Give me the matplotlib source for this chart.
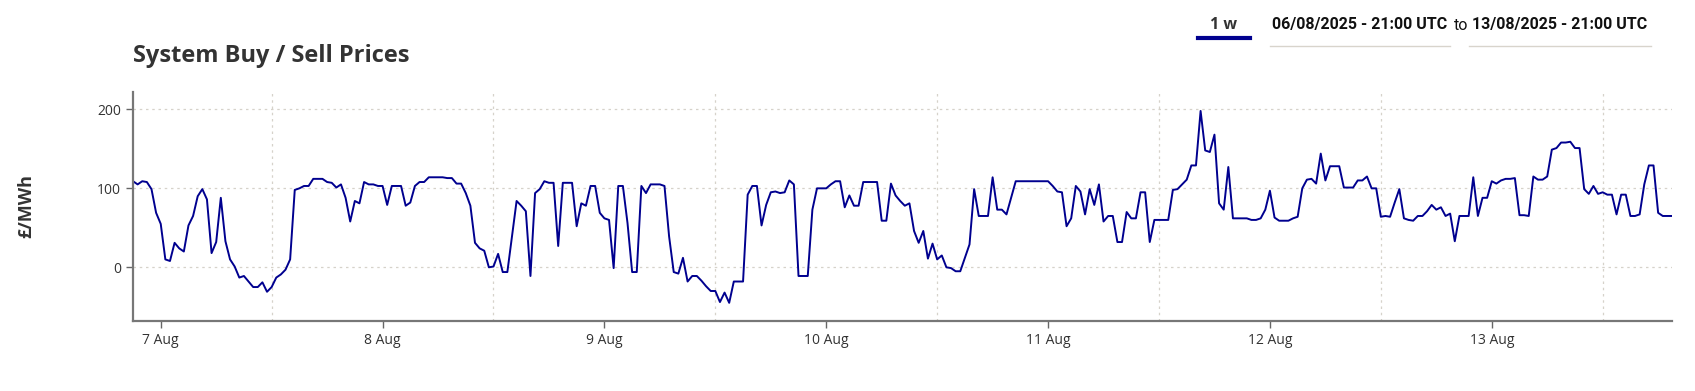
import pandas as pd
import matplotlib
matplotlib.use("Agg")
import matplotlib.pyplot as plt
import matplotlib.dates as mdates
from matplotlib.lines import Line2D

# System price (GBP/MWh), half-hourly from 06/08/2025 21:00
aug06 = [109, 105, 109, 108, 99, 69]
aug07 = [55, 10, 8, 31, 24, 20, 53, 65, 90, 99, 86, 18, 32, 88, 33, 10, 1, -13, -11, -18,
         -25, -25, -19, -31, -25, -13, -9, -3, 10, 98, 100, 103, 103, 112, 112, 112, 108, 107, 101, 105,
         88, 58, 84, 81, 108, 105, 105, 103]
aug08 = [103, 79, 103, 103, 103, 78, 82, 103, 108, 108, 114, 114, 114, 114, 113, 113, 106, 106, 94, 78,
         31, 24, 21, 0, 1, 17, -6, -6, 39, 84, 78, 71, -11, 94, 99, 109, 107, 107, 27, 107,
         107, 107, 52, 81, 78, 103, 103, 69]
aug09 = [62, 60, -1, 103, 103, 56, -6, -6, 103, 94, 105, 105, 105, 103, 39, -6, -8, 12, -18, -11,
         -11, -17, -24, -30, -30, -44, -32, -45, -18, -18, -18, 92, 103, 103, 53, 79, 95, 96, 94, 95,
         110, 105, -11, -11, -11, 73, 100, 100]
aug10 = [100, 105, 109, 109, 76, 91, 78, 78, 108, 108, 108, 108, 59, 59, 106, 91, 84, 78, 81, 46,
         31, 46, 11, 30, 10, 15, 0, -1, -5, -5, 12, 29, 99, 65, 65, 65, 114, 73, 73, 67,
         88, 109, 109, 109, 109, 109, 109, 109]
aug11 = [109, 103, 96, 95, 52, 62, 103, 96, 67, 99, 79, 105, 58, 65, 65, 32, 32, 70, 62, 62,
         95, 95, 32, 60, 60, 60, 60, 98, 99, 105, 111, 129, 129, 198, 148, 146, 168, 81, 73, 127,
         62, 62, 62, 62, 60, 60, 62, 73]
aug12 = [97, 63, 59, 59, 59, 62, 64, 100, 111, 112, 106, 144, 110, 128, 128, 128, 101, 101, 101, 110,
         110, 115, 100, 100, 64, 65, 64, 82, 99, 62, 60, 59, 65, 65, 71, 79, 73, 76, 65, 68,
         33, 65, 65, 65, 114, 65, 88, 88]
aug13 = [109, 106, 110, 112, 112, 113, 66, 66, 65, 115, 111, 111, 115, 149, 151, 158, 158, 159, 151, 151,
         99, 93, 103, 93, 95, 92, 92, 67, 92, 92, 65, 65, 67, 105, 129, 129, 69, 65, 65, 65]

prices = aug06 + aug07 + aug08 + aug09 + aug10 + aug11 + aug12 + aug13
times = pd.date_range("2025-08-06 21:00", periods=len(prices), freq="30min")

y_ticks = [0, 100, 200]
title = "System Buy / Sell Prices"
y_label = "£/MWh"
range_label = "1 w"
date_from = "06/08/2025 - 21:00 UTC"
date_to = "13/08/2025 - 21:00 UTC"

plt.rcParams['font.family'] = ['Open Sans', 'DejaVu Sans']

W, H = 1695, 391
fig = plt.figure(figsize=(W / 100, H / 100), dpi=100)
ax = fig.add_axes([133 / W, 1 - 321 / H, (1672 - 133) / W, (321 - 92) / H])

ax.plot(times, prices, color="#00008f", lw=1.4)

ax.set_xlim(times[0], times[-1])
ax.set_ylim(-68, 222)
ax.set_yticks(y_ticks)

ax.xaxis.set_major_locator(mdates.DayLocator())
ax.xaxis.set_major_formatter(
    matplotlib.ticker.FuncFormatter(lambda v, p: "%d Aug" % mdates.num2date(v).day))
ax.xaxis.set_minor_locator(mdates.HourLocator(byhour=[0, 12]))

ax.grid(True, which="minor", axis="x", color="#d6d2ca", ls=(0, (2, 3)), lw=0.9)
ax.grid(True, which="major", axis="y", color="#d6d2ca", ls=(0, (2, 3)), lw=0.9)
ax.tick_params(axis="x", which="minor", length=0)
ax.tick_params(axis="both", which="major", colors="#666666", labelcolor="#333333",
               labelsize=10, length=5, width=1)

for s in ["top", "right"]:
    ax.spines[s].set_visible(False)
for s in ["left", "bottom"]:
    ax.spines[s].set_color("#777777")
    ax.spines[s].set_linewidth(1.6)

fig.text(133 / W, 1 - 56 / H, title, fontsize=17, weight="bold", color="#333333", va="center")
fig.text(26 / W, 1 - 206 / H, y_label, fontsize=13, weight="bold", color="#333333",
         rotation=90, va="center", ha="center")

# header: range selector and date range
fig.text(1224 / W, 1 - 25 / H, range_label, fontsize=11.5, weight="bold", color="#333333",
         ha="center", va="center")
fig.add_artist(Line2D([1198 / W, 1250 / W], [1 - 38 / H, 1 - 38 / H], color="#00008f", lw=3))
fig.text(1360 / W, 1 - 25 / H, date_from, fontsize=11.5, weight="bold", color="#111111",
         ha="center", va="center", family=["Roboto", "DejaVu Sans"])
fig.add_artist(Line2D([1270 / W, 1450 / W], [1 - 46 / H, 1 - 46 / H], color="#d8d4cc", lw=1))
fig.text(1461 / W, 1 - 25 / H, "to", fontsize=11.5, color="#111111", ha="center", va="center",
         family=["Roboto", "DejaVu Sans"])
fig.text(1560 / W, 1 - 25 / H, date_to, fontsize=11.5, weight="bold", color="#111111",
         ha="center", va="center", family=["Roboto", "DejaVu Sans"])
fig.add_artist(Line2D([1469 / W, 1651 / W], [1 - 46 / H, 1 - 46 / H], color="#d8d4cc", lw=1))

fig.savefig("out.png", dpi=100)
